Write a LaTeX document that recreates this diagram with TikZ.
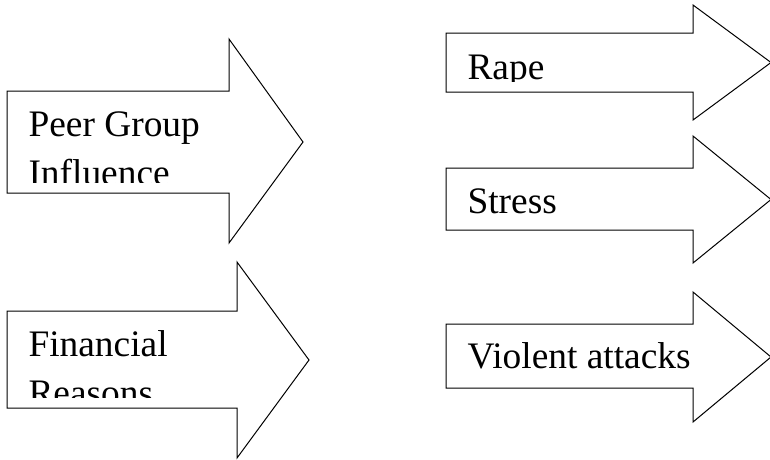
\documentclass[tikz,border=0pt]{standalone}
\usepackage{fontspec}
\setmainfont{Liberation Serif}
\begin{document}
\begin{tikzpicture}[x=1pt, y=-1pt, line width=1pt,
  label text/.style={font=\fontsize{37.4}{49}\selectfont, anchor=base west, inner sep=0pt}]
  \useasboundingbox (0,0) rectangle (770,459);
  \clip (0,0) rectangle (770,459);
  % left column
  \draw (7,91) -- (229,91) -- (229,39) -- (303,142) -- (229,243) -- (229,193) -- (7,193) -- cycle;
  \draw (7,311) -- (237,311) -- (237,262) -- (309,360) -- (237,458) -- (237,408) -- (7,408) -- cycle;
  % right column
  \draw (446,33) -- (693,33) -- (693,5) -- (771,62.5) -- (693,120) -- (693,92) -- (446,92) -- cycle;
  \draw (446,168) -- (693,168) -- (693,136) -- (771,199.5) -- (693,263) -- (693,230) -- (446,230) -- cycle;
  \draw (446,324) -- (693,324) -- (693,292) -- (771,357) -- (693,422) -- (693,388) -- (446,388) -- cycle;
  % texts, cut off at the bottom of each body
  \begin{scope}
    \clip (7,91) rectangle (229,182);
    \node[label text] (peer) at (28,136) {Peer Group};
    \node[label text] (peer2) at (28,185) {Influence};
  \end{scope}
  \begin{scope}
    \clip (7,311) rectangle (237,397);
    \node[label text] (financial) at (28,356) {Financial};
    \node[label text] (financial2) at (28,405) {Reasons};
  \end{scope}
  \begin{scope}
    \clip (446,33) rectangle (693,81);
    \node[label text] (rape) at (467,79) {Rape};
  \end{scope}
  \node[label text] (stress) at (467,213) {Stress};
  \node[label text] (violent) at (467,368) {Violent attacks};
\end{tikzpicture}
\end{document}
